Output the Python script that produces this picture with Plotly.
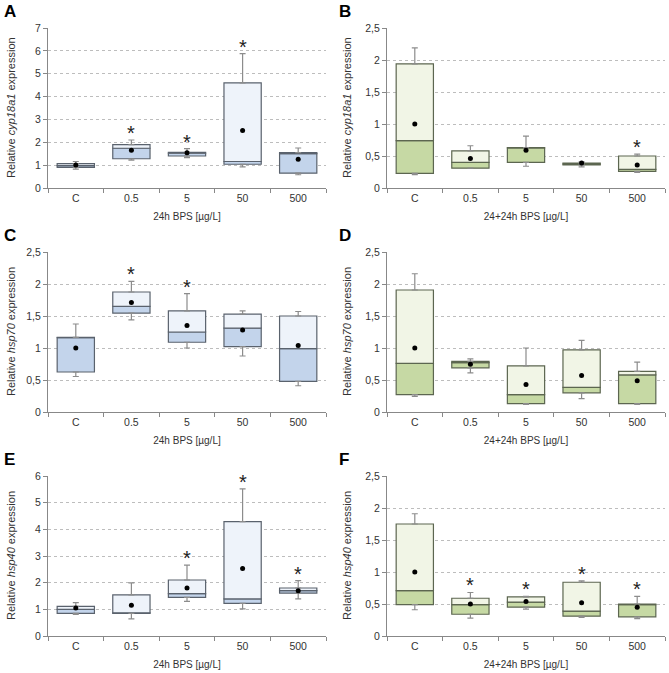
import plotly.graph_objects as go
from plotly.subplots import make_subplots

categories = ["C", "0.5", "5", "50", "500"]

# Panel A: cyp18a1, 24h
A_low = [0.83, 1.22, 1.33, 0.92, 0.58]
A_q1 = [0.90, 1.28, 1.40, 1.04, 0.65]
A_med = [0.98, 1.74, 1.52, 1.16, 1.50]
A_q3 = [1.07, 1.90, 1.56, 4.60, 1.55]
A_high = [1.16, 2.10, 1.72, 5.88, 1.75]
A_mean = [1.01, 1.65, 1.54, 2.52, 1.26]
A_sig = [0, 1, 1, 1, 0]

# Panel B: cyp18a1, 24+24h
B_low = [0.21, 0.31, 0.34, 0.33, 0.245]
B_q1 = [0.23, 0.31, 0.40, 0.36, 0.26]
B_med = [0.74, 0.40, 0.625, 0.375, 0.29]
B_q3 = [1.94, 0.58, 0.63, 0.39, 0.50]
B_high = [2.19, 0.66, 0.81, 0.41, 0.53]
B_mean = [1.00, 0.46, 0.59, 0.39, 0.36]
B_sig = [0, 0, 0, 0, 1]

# Panel C: hsp70, 24h
C_low = [0.555, 1.44, 1.00, 0.875, 0.41]
C_q1 = [0.625, 1.545, 1.09, 1.02, 0.48]
C_med = [1.16, 1.65, 1.25, 1.31, 0.99]
C_q3 = [1.165, 1.875, 1.58, 1.53, 1.50]
C_high = [1.375, 2.04, 1.85, 1.58, 1.57]
C_mean = [1.00, 1.71, 1.35, 1.28, 1.04]
C_sig = [0, 1, 1, 0, 0]

# Panel D: hsp70, 24+24h
D_low = [0.245, 0.61, 0.12, 0.21, 0.12]
D_q1 = [0.27, 0.69, 0.13, 0.30, 0.13]
D_med = [0.76, 0.77, 0.27, 0.385, 0.58]
D_q3 = [1.906, 0.79, 0.72, 0.97, 0.635]
D_high = [2.16, 0.83, 1.00, 1.12, 0.78]
D_mean = [1.00, 0.745, 0.43, 0.57, 0.49]
D_sig = [0, 0, 0, 0, 0]

# Panel E: hsp40, 24h
E_low = [0.81, 0.64, 1.30, 1.02, 1.39]
E_q1 = [0.85, 0.85, 1.45, 1.22, 1.61]
E_med = [1.00, 0.87, 1.59, 1.39, 1.70]
E_q3 = [1.11, 1.54, 2.10, 4.29, 1.80]
E_high = [1.25, 1.99, 2.66, 5.52, 2.08]
E_mean = [1.05, 1.15, 1.80, 2.53, 1.70]
E_sig = [0, 0, 1, 1, 1]

# Panel F: hsp40, 24+24h
F_low = [0.41, 0.28, 0.42, 0.29, 0.27]
F_q1 = [0.49, 0.34, 0.45, 0.31, 0.30]
F_med = [0.71, 0.49, 0.53, 0.39, 0.49]
F_q3 = [1.75, 0.59, 0.61, 0.84, 0.50]
F_high = [1.91, 0.68, 0.62, 0.86, 0.62]
F_mean = [1.00, 0.50, 0.54, 0.52, 0.45]
F_sig = [0, 1, 1, 1, 1]

panel_letters = ["A", "B", "C", "D", "E", "F"]
genes = ["cyp18a1", "cyp18a1", "hsp70", "hsp70", "hsp40", "hsp40"]
x_titles = ["24h BPS [µg/L]", "24+24h BPS [µg/L]"] * 3
y_max = [7, 2.5, 2.5, 2.5, 6, 2.5]
y_dtick = [1, 0.5, 0.5, 0.5, 1, 0.5]

panels = [
    (A_low, A_q1, A_med, A_q3, A_high, A_mean, A_sig),
    (B_low, B_q1, B_med, B_q3, B_high, B_mean, B_sig),
    (C_low, C_q1, C_med, C_q3, C_high, C_mean, C_sig),
    (D_low, D_q1, D_med, D_q3, D_high, D_mean, D_sig),
    (E_low, E_q1, E_med, E_q3, E_high, E_mean, E_sig),
    (F_low, F_q1, F_med, F_q3, F_high, F_mean, F_sig),
]

W, H = 669, 673
col_px = [(48, 326), (387, 665)]
row_px = [(28, 188), (252, 412), (476, 636)]

BLUE_DARK = "#c3d4eb"
BLUE_LIGHT = "#eef3fa"
GREEN_DARK = "#c6d9a4"
GREEN_LIGHT = "#f1f5e6"
FONT = "Liberation Sans, Arial, sans-serif"

fig = make_subplots(rows=3, cols=2)

for i, (low, q1, med, q3, high, mean, sig) in enumerate(panels):
    r, c = i // 2 + 1, i % 2 + 1
    dark = BLUE_DARK if c == 1 else GREEN_DARK
    light = BLUE_LIGHT if c == 1 else GREEN_LIGHT
    border = "#5a626d" if c == 1 else "#5c6650"
    lower_h = [m - a for m, a in zip(med, q1)]
    upper_h = [b - m for b, m in zip(q3, med)]
    fig.add_trace(go.Bar(x=categories, y=lower_h, base=q1, width=0.67,
                         marker=dict(color=dark, line=dict(color=border, width=1.2)),
                         showlegend=False, hoverinfo="skip"), row=r, col=c)
    fig.add_trace(go.Bar(x=categories, y=upper_h, base=med, width=0.67,
                         marker=dict(color=light, line=dict(color=border, width=1.2)),
                         showlegend=False, hoverinfo="skip"), row=r, col=c)
    # upper whiskers
    fig.add_trace(go.Scatter(x=categories, y=q3, mode="markers",
                             marker=dict(size=1, color="rgba(0,0,0,0)"),
                             error_y=dict(type="data", symmetric=False,
                                          array=[h - b for h, b in zip(high, q3)],
                                          arrayminus=[0] * 5, color="#8c8c8c",
                                          thickness=1.2, width=3),
                             showlegend=False, hoverinfo="skip"), row=r, col=c)
    # lower whiskers
    fig.add_trace(go.Scatter(x=categories, y=q1, mode="markers",
                             marker=dict(size=1, color="rgba(0,0,0,0)"),
                             error_y=dict(type="data", symmetric=False,
                                          array=[0] * 5,
                                          arrayminus=[a - l for a, l in zip(q1, low)],
                                          color="#8c8c8c", thickness=1.2, width=3),
                             showlegend=False, hoverinfo="skip"), row=r, col=c)
    # means
    fig.add_trace(go.Scatter(x=categories, y=mean, mode="markers",
                             marker=dict(size=5, color="black"),
                             showlegend=False, hoverinfo="skip"), row=r, col=c)
    # significance stars (category index positions)
    for j, (h, s) in enumerate(zip(high, sig)):
        if s:
            fig.add_annotation(x=j, y=h, text="*", showarrow=False,
                               yanchor="bottom", yshift=-6,
                               font=dict(size=20, color="#222", family=FONT),
                               row=r, col=c)

fig.update_layout(barmode="overlay", width=W, height=H,
                  margin=dict(l=0, r=0, t=0, b=0, autoexpand=False),
                  paper_bgcolor="white", plot_bgcolor="white",
                  separators=", ", font=dict(family=FONT, size=10, color="#333"),
                  showlegend=False)

for i in range(6):
    r, c = i // 2, i % 2
    x0, x1 = col_px[c]
    yt, yb = row_px[r]
    idx = "" if i == 0 else str(i + 1)
    fig.layout["xaxis" + idx].update(
        domain=[x0 / W, x1 / W], type="category", categoryorder="array",
        categoryarray=categories, range=[-0.5, 4.5], tickson="boundaries",
        ticks="outside", ticklen=4, tickcolor="#888", showline=True,
        linecolor="#888", linewidth=1, showgrid=False, zeroline=False,
        automargin=False,
        tickfont=dict(size=10.5, color="#333", family=FONT),
        title=dict(text=x_titles[i], font=dict(size=10, color="#333", family=FONT),
                   standoff=10))
    fig.layout["yaxis" + idx].update(
        domain=[1 - yb / H, 1 - yt / H], range=[0, y_max[i]], dtick=y_dtick[i],
        tick0=0, ticks="outside", ticklen=4, tickcolor="#888", showline=True,
        linecolor="#888", linewidth=1, showgrid=True, gridcolor="#bdbdbd",
        griddash="3px,3px", gridwidth=1, zeroline=False, automargin=False,
        tickfont=dict(size=10.5, color="#333", family=FONT))
    # y title
    fig.add_annotation(xref="paper", yref="paper",
                       x=(11 if c == 0 else 347) / W, y=1 - (yt + yb) / 2 / H,
                       text="Relative <i>" + genes[i] + "</i> expression",
                       textangle=-90, showarrow=False, xanchor="center", yanchor="middle",
                       font=dict(size=11, color="#333", family=FONT))
    # panel letter
    fig.add_annotation(xref="paper", yref="paper",
                       x=(2 if c == 0 else 337) / W, y=1 - (yt - 17) / H,
                       text="<b>" + panel_letters[i] + "</b>", showarrow=False,
                       xanchor="left", yanchor="middle",
                       font=dict(size=17, color="black", family=FONT))

fig.write_html("out.html", config={"displayModeBar": False},
               post_script="document.body.style.margin='0';document.body.style.padding='0';")
